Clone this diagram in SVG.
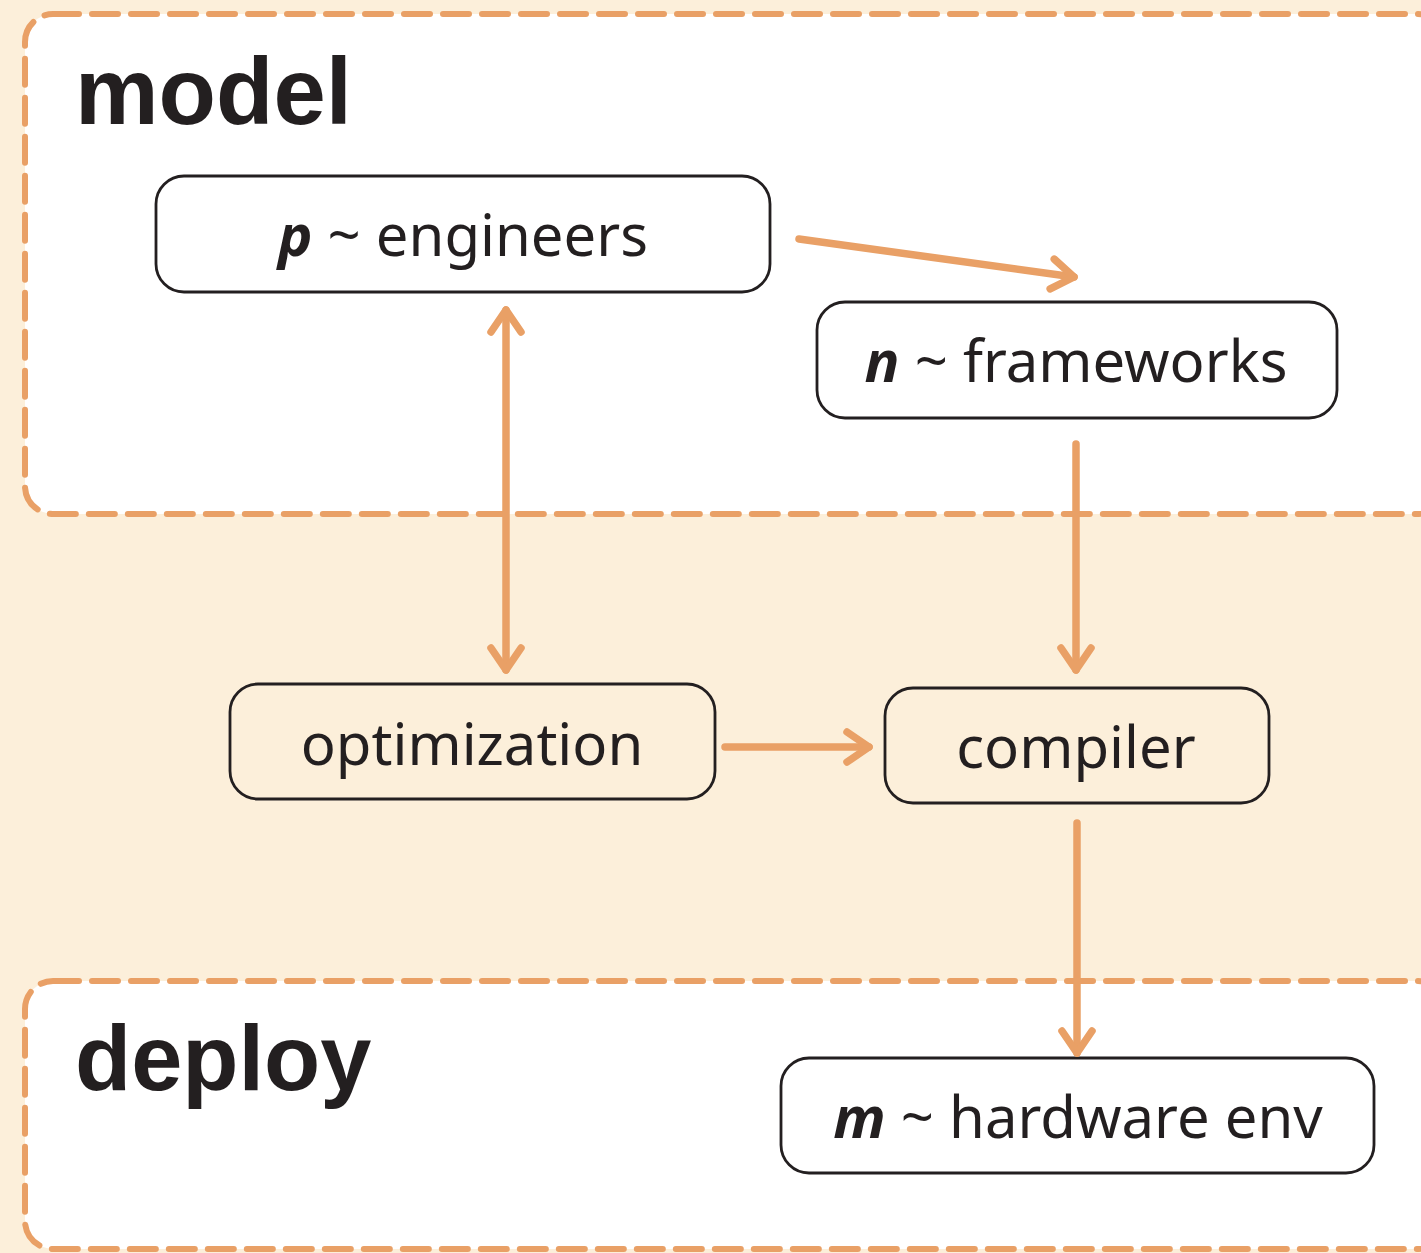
<svg xmlns="http://www.w3.org/2000/svg" width="1421" height="1253" viewBox="0 0 1421 1253">
<defs>
<style>
.grp{fill:#ffffff;stroke:#E9A066;stroke-width:6;stroke-dasharray:26 13;stroke-linecap:round}
.node{stroke:#231f20;stroke-width:2.8}
.w{fill:#ffffff}
.c{fill:#FCEFDA}
.t{font-family:"Noto Sans","Open Sans",sans-serif;font-size:58px;fill:#231f20;text-anchor:middle}
.b{font-weight:bold;font-style:italic}
.title{font-family:"Liberation Sans",Arial,sans-serif;font-weight:bold;font-size:94px;fill:#231f20}
.edge{fill:none;stroke:#E9A066;stroke-width:7.5;stroke-linecap:round}
</style>
<marker id="ah" markerUnits="userSpaceOnUse" markerWidth="40" markerHeight="40" viewBox="-30 -20 40 40" refX="0" refY="0" orient="auto-start-reverse">
<path d="M-22,-15 L0,0 L-22,15" fill="none" stroke="#E9A066" stroke-width="7.5" stroke-linecap="round" stroke-linejoin="round"/>
</marker>
</defs>
<rect width="1421" height="1253" fill="#FCEFDA"/>
<g id="model">
<rect class="grp" x="25" y="14" width="1420" height="500" rx="28"/>
<text class="title" x="75" y="124">model</text>
</g>
<g id="deploy">
<rect class="grp" x="25" y="981" width="1420" height="268" rx="28"/>
<text class="title" x="75" y="1090" style="font-size:92px">deploy</text>
</g>
<g id="engineers">
<rect class="node w" x="156" y="176" width="614" height="116" rx="28"/>
<text class="t" x="463" y="256"><tspan class="b">p</tspan> ~ engineers</text>
</g>
<g id="frameworks">
<rect class="node w" x="817" y="302" width="520" height="116" rx="28"/>
<text class="t" x="1076" y="382"><tspan class="b">n</tspan> ~ frameworks</text>
</g>
<g id="optimization">
<rect class="node c" x="230" y="684" width="485" height="115" rx="28"/>
<text class="t" x="472" y="765">optimization</text>
</g>
<g id="compiler">
<rect class="node c" x="885" y="688" width="384" height="115" rx="28"/>
<text class="t" x="1076" y="768">compiler</text>
</g>
<g id="hardware">
<rect class="node w" x="781" y="1058" width="593" height="115" rx="28"/>
<text class="t" x="1078" y="1138"><tspan class="b">m</tspan> ~ hardware env</text>
</g>
<g id="connectors">
<line class="edge" x1="799" y1="239" x2="1074" y2="277" marker-end="url(#ah)"/>
<line class="edge" x1="506" y1="310" x2="506" y2="670" marker-start="url(#ah)" marker-end="url(#ah)"/>
<line class="edge" x1="1076" y1="444" x2="1076" y2="670" marker-end="url(#ah)"/>
<line class="edge" x1="725" y1="747" x2="869" y2="747" marker-end="url(#ah)"/>
<line class="edge" x1="1077" y1="823" x2="1077" y2="1053" marker-end="url(#ah)"/>
</g>
</svg>
